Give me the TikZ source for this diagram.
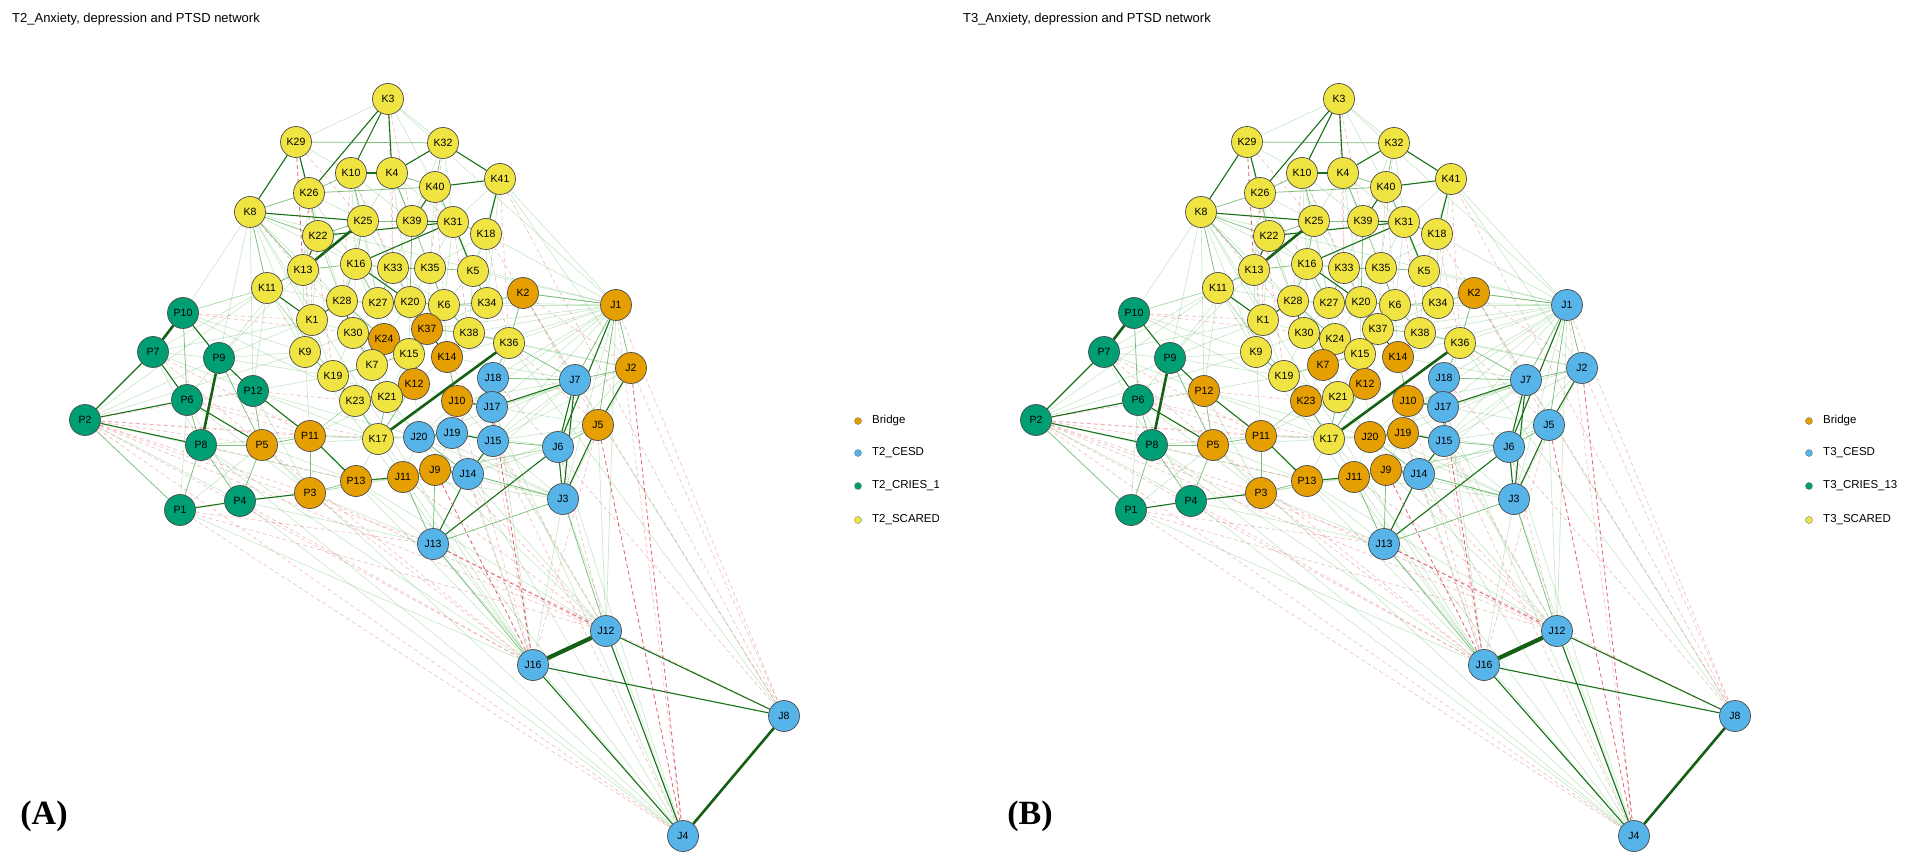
\documentclass[tikz,border=0pt]{standalone}
\usepackage{fontspec}
\setmainfont{Liberation Sans}
\newfontfamily\panelfont{Liberation Serif}
\usepackage{tikz}

\definecolor{yel}{RGB}{240,228,66}
\definecolor{ora}{RGB}{230,159,0}
\definecolor{blu}{RGB}{86,180,233}
\definecolor{grn}{RGB}{0,158,115}
\definecolor{posg}{RGB}{22,112,22}
\definecolor{posl}{RGB}{70,175,70}
\definecolor{negr}{RGB}{215,60,70}

\pgfdeclarelayer{bg}
\pgfdeclarelayer{edges}
\pgfsetlayers{bg,edges,main}

\tikzset{
  sym/.style={shape=circle,draw=black!70,line width=.7pt,minimum size=31pt,inner sep=0pt,font=\fontsize{10.5}{12}\selectfont},
  ea/.style={draw=posl,opacity=.3,line width=.6pt},
  eb/.style={draw=posl!70!posg,opacity=.65,line width=.75pt},
  ec/.style={draw=posg,line width=1.1pt},
  ed/.style={draw=posg!85!black,line width=2.6pt},
  ee/.style={draw=posg!85!black,line width=4.2pt},
  na/.style={draw=negr,dash pattern=on 4pt off 3pt,opacity=.35,line width=.6pt},
  nb/.style={draw=negr,dash pattern=on 4pt off 3pt,opacity=.8,line width=.8pt},
  legdot/.style={shape=circle,draw=black!60,line width=.3pt,minimum size=7pt,inner sep=0pt},
  legtext/.style={anchor=west,inner sep=0pt,font=\fontsize{11.5}{13}\selectfont},
  title/.style={anchor=west,inner sep=0pt,font=\fontsize{13}{15}\selectfont},
  tag/.style={inner sep=0pt,font=\panelfont\bfseries\fontsize{34}{38}\selectfont}
}

% name / x / y / colour T2 / colour T3
\def\nodelist{
K3/388/99/yel/yel, K29/296/142/yel/yel, K32/443/143/yel/yel, K41/500/179/yel/yel,
K10/351/173/yel/yel, K4/392/173/yel/yel, K40/435/187/yel/yel, K26/309/193/yel/yel,
K8/250/212/yel/yel, K25/363/221/yel/yel, K39/412/221/yel/yel, K31/453/222/yel/yel,
K18/486/234/yel/yel, K22/318/236/yel/yel, K13/303/270/yel/yel, K16/356/264/yel/yel,
K33/393/268/yel/yel, K35/430/268/yel/yel, K5/473/271/yel/yel, K11/267/288/yel/yel,
K28/342/301/yel/yel, K27/378/303/yel/yel, K20/410/302/yel/yel, K6/444/305/yel/yel,
K34/487/303/yel/yel, K1/312/320/yel/yel, K30/353/333/yel/yel, K24/384/339/ora/yel,
K37/427/329/ora/yel, K38/469/333/yel/yel, K9/305/352/yel/yel, K15/409/354/yel/yel,
K14/447/357/ora/ora, K7/372/365/yel/ora, K19/333/376/yel/yel, K36/509/343/yel/yel,
K12/414/384/ora/ora, K23/355/401/yel/ora, K21/387/397/yel/yel, K17/378/439/yel/yel,
K2/523/293/ora/ora,
J1/616/305/ora/blu, J2/631/368/ora/blu, J7/575/380/blu/blu, J18/493/378/blu/blu,
J17/492/407/blu/blu, J10/457/401/ora/ora, J5/598/425/ora/blu, J6/558/447/blu/blu,
J20/419/437/blu/ora, J19/452/433/blu/ora, J15/493/441/blu/blu, J14/468/474/blu/blu,
J9/435/470/ora/ora, J11/403/477/ora/ora, J3/563/499/blu/blu, J13/433/544/blu/blu,
J12/606/631/blu/blu, J16/533/665/blu/blu, J8/784/716/blu/blu, J4/683/836/blu/blu,
P10/183/313/grn/grn, P7/153/352/grn/grn, P9/219/358/grn/grn, P6/187/400/grn/grn,
P12/253/391/grn/ora, P2/85/420/grn/grn, P8/201/445/grn/grn, P5/262/445/ora/ora,
P11/310/436/ora/ora, P13/356/481/ora/ora, P3/310/493/ora/ora, P4/240/501/grn/grn,
P1/180/510/grn/grn}

% from / to / weight
\def\edgelist{
K17/K36/ed, J12/J16/ee, J8/J4/ed, P9/P8/ed, P10/P7/ed, K13/K25/ed,
K3/K10/ec, K3/K4/ec, K3/K26/ec, K29/K8/ec, K29/K26/ec, K32/K4/ec, K32/K41/ec, K40/K41/ec,
K40/K39/ec, K8/K25/ec, K22/K31/ec, K16/K31/ec, K18/K41/ec, K16/K20/ec, K5/K31/ec, K1/K28/ec,
K11/K1/ec, K30/K24/ec, K37/K14/ec, K37/K6/ec, K4/K10/ec, K22/K13/ec, K39/K31/ec, K27/K20/ec,
K28/K30/ec,
P10/P9/ec, P7/P2/ec, P7/P6/ec, P2/P6/ec, P2/P8/ec, P9/P12/ec, P12/P11/ec, P6/P5/ec, P1/P4/ec,
P4/P3/ec, P11/P13/ec, P13/J11/ec,
J13/J14/ec, J13/J6/ec, J3/J6/ec, J3/J7/ec, J6/J7/ec, J7/J17/ec, J17/J18/ec, J19/J15/ec,
J20/J19/ec, J14/J15/ec, J1/J6/ec, J2/J5/ec, J5/J3/ec, J12/J8/ec, J16/J8/ec, J12/J4/ec,
J16/J4/ec, J9/J14/ec, J11/J9/ec, J10/J17/ec,
K29/K32/eb, K8/K26/eb, K8/K22/eb, K8/K13/eb, K8/K11/eb, K26/K40/eb, K26/K10/eb, K26/K22/eb,
K22/K25/eb, K25/K39/eb, K40/K31/eb, K31/K18/eb, K35/K33/eb, K33/K16/eb, K35/K5/eb, K5/K34/eb,
K34/K2/eb, K38/K36/eb, K28/K27/eb, K20/K6/eb, K6/K34/eb, K1/K9/eb, K24/K7/eb, K7/K15/eb,
K15/K12/eb, K12/K21/eb, K21/K23/eb, K19/K23/eb, K9/K19/eb, K19/K7/eb, K37/K38/eb, K14/K38/eb,
K16/K28/eb, K33/K27/eb, K35/K6/eb, K13/K11/eb, K13/K16/eb, K10/K25/eb, K4/K39/eb, K4/K40/eb,
K32/K40/eb, K24/K15/eb, K30/K7/eb, K21/K17/eb, K23/K17/eb, K12/K17/eb, K2/K36/eb, K14/J10/eb,
J18/K36/eb, K36/J7/eb, K16/K27/eb, K20/K37/eb, K25/K16/eb, K39/K20/eb, K6/K38/eb, K28/K24/eb,
P10/P6/eb, P2/P1/eb, P6/P8/eb, P8/P5/eb, P8/P1/eb, P4/P5/eb, P4/P8/eb, P3/P11/eb, P5/P11/eb,
P9/P5/eb, P12/P5/eb, P3/P13/eb,
J13/J9/eb, J13/J11/eb, J13/J3/eb, J1/J7/eb, J1/J5/eb, J10/J19/eb, J17/J15/eb, J18/J7/eb,
J15/J6/eb, J14/J3/eb, J20/J14/eb, J5/J6/eb, J2/J1/eb, J1/K2/eb, J2/J7/eb, J13/J16/eb, J3/J12/eb,
K3/K32/ea, K3/K29/ea, K3/K40/ea, K29/K10/ea, K32/K39/ea, K32/K31/ea, K41/K31/ea, K41/K5/ea,
K41/K34/ea, K8/K1/ea, K8/K9/ea, K8/K28/ea, K8/K16/ea, K10/K39/ea, K10/K16/ea, K4/K25/ea,
K4/K31/ea, K26/K25/ea, K26/K13/ea, K26/K16/ea, K22/K16/ea, K22/K28/ea, K22/K1/ea, K25/K33/ea,
K25/K27/ea, K39/K33/ea, K39/K35/ea, K31/K35/ea, K31/K6/ea, K18/K5/ea,
K18/K34/ea, K18/K35/ea, K16/K30/ea, K33/K20/ea, K35/K20/ea, K35/K37/ea, K5/K6/ea,
K5/K38/ea, K34/K38/ea, K34/K37/ea, K28/K1/ea, K27/K24/ea, K27/K30/ea,
K20/K15/ea, K6/K14/ea, K1/K30/ea, K1/K19/ea, K30/K9/ea, K30/K19/ea, K24/K21/ea,
K24/K12/ea, K37/K15/ea, K37/K12/ea, K14/K12/ea, K15/K21/ea, K7/K21/ea, K7/K23/ea, K9/K23/ea,
K11/K9/ea, K11/K28/ea, K11/K19/ea, K19/K21/ea, K23/K12/ea, K12/J10/ea, K36/J17/ea,
K13/K1/ea, K13/K28/ea, K13/K9/ea, K10/K33/ea, K10/K27/ea, K4/K35/ea, K4/K20/ea, K40/K35/ea,
K40/K5/ea, K39/K6/ea, K33/K6/ea, K27/K15/ea, K27/K37/ea, K20/K24/ea, K28/K7/ea, K30/K21/ea,
K16/K24/ea, K33/K37/ea, K25/K28/ea, K22/K30/ea, K31/K34/ea, K26/K28/ea, K29/K22/ea,
K2/J1/ea, K2/J7/ea, K34/J1/ea, K36/J1/ea, K18/J1/ea, K5/J1/ea, K41/J1/ea, K41/J2/ea, K38/J1/ea,
K14/J7/ea, K36/J2/ea, J1/J18/ea, J1/J17/ea, J1/J15/ea, J1/J3/ea, J2/J6/ea, J2/J15/ea, J2/J3/ea,
J5/J15/ea, J5/J17/ea, J5/J14/ea, J7/J15/ea, J7/J19/ea, J7/J10/ea, J6/J14/ea, J6/J19/ea,
J3/J15/ea, J3/J9/ea, J3/J11/ea, J3/J16/ea, J14/J16/ea, J14/J12/ea,
J9/J12/ea, J11/J16/ea, J15/J12/ea, J17/J4/ea, J6/J4/ea, J3/J4/ea, J5/J12/ea, J7/J8/ea,
J13/J4/ea, J14/J4/ea, J1/J12/ea, J18/J16/ea, J1/K37/ea, J1/K14/ea, J1/K6/ea, J2/K38/ea,
J1/J20/ea, J2/J17/ea, J7/J14/ea, J7/J20/ea, J6/J9/ea, J6/J11/ea, J3/J14/ea, J3/J20/ea,
K8/J1/ea, K3/J1/ea, K36/J8/ea, K8/J16/ea, K11/J4/ea, K9/J16/ea, P10/J3/ea,
P2/P13/ea, P2/P4/ea, P2/P9/ea, P7/P9/ea, P7/P12/ea, P7/P8/ea, P7/K11/ea, P10/K11/ea, P10/K9/ea,
P9/K9/ea, P9/K1/ea, P9/P6/ea, P9/K19/ea, P12/K19/ea, P12/K17/ea, P12/P3/ea, P6/P12/ea,
P6/P4/ea, P6/P1/ea, P6/P3/ea, P5/P3/ea, P5/P13/ea, P11/K17/ea, P11/J20/ea, P11/K23/ea,
P13/J13/ea, P13/J14/ea, P3/J13/ea, P3/J11/ea, P1/P5/ea, P1/J16/ea, P8/J16/ea, P4/J13/ea,
P8/P11/ea, P4/J4/ea, P5/J4/ea, P8/J4/ea, K17/J20/ea, K17/J19/ea, K17/P13/ea, K17/J11/ea,
J20/J11/ea, J20/J9/ea, J19/J9/ea, J19/J14/ea, J10/J20/ea, J10/J15/ea, J18/J15/ea, J18/J19/ea,
K12/J20/ea, K21/J20/ea, K21/P11/ea, K23/P11/ea, K9/P11/ea, K11/P12/ea, K13/P9/ea, K8/P10/ea,
K8/P9/ea, K8/P12/ea, K11/P10/ea, K22/P9/ea, P2/K11/ea, P2/K9/ea, P7/K1/ea, P12/J20/ea,
P5/K17/ea, P3/J9/ea, P13/J12/ea, P11/J16/ea,
K29/K13/nb, K3/K39/na, K3/K33/na, K32/K35/na, K8/K30/na, K26/K19/na, K10/K20/na, K4/K33/na,
K31/K38/na, K18/K36/na, K41/K36/na, K29/K25/na, K26/K1/na, K10/K28/na, K40/K6/na, K26/K9/na,
P2/P5/na, P2/P11/na, P2/J13/na, P2/P3/na, P7/P5/na, P10/K30/na, P10/K1/na, P6/P11/na,
P8/P13/na, P1/J13/na, P1/J12/na, P4/J16/na, P3/J12/na, P2/J12/na, P2/J16/na, P1/J4/na,
P2/J4/na, P3/J16/na, P5/J16/na, P2/K17/na, P2/P12/na, P7/P11/na, P6/K17/na, P12/K23/na,
J13/J12/nb, J2/J4/nb, J2/J8/na, J5/J4/nb, J5/J16/na, J1/J8/na, J1/J4/na, J13/J8/na, J9/J16/nb,
J10/J16/na, J11/J12/na, J20/J12/na, K14/J12/na, J19/J16/na, J15/J4/na, J18/J8/na, J6/J12/na,
K2/J5/na, K36/J5/na, K2/J2/na, J17/J16/nb, J15/J16/na, K41/J8/na, K18/J8/na}

\begin{document}
\begin{tikzpicture}[x=1pt,y=-1pt]
\useasboundingbox (0,0) rectangle (1913,866);
\begin{pgfonlayer}{bg}
  \fill[white] (0,0) rectangle (1913,866);
\end{pgfonlayer}

% (A) T2 network
\node[title] (titleA) at (12,19) {T2\_Anxiety, depression and PTSD network};
\foreach \n/\x/\y/\ca/\cb in \nodelist
  \node[sym,fill=\ca] (A\n) at (\x,\y) {\n};
\begin{pgfonlayer}{edges}
  \foreach \a/\b/\s in \edgelist
    \draw[\s] (A\a) -- (A\b);
\end{pgfonlayer}
\begin{scope}
  \clip (0,0) rectangle (938,866);
  \node[legdot,fill=ora] (Ld1) at (858,421) {};
  \node[legdot,fill=blu] (Ld2) at (858,453) {};
  \node[legdot,fill=grn] (Ld3) at (858,486) {};
  \node[legdot,fill=yel] (Ld4) at (858,520) {};
  \node[legtext] (Lt1) at (872,421) {Bridge};
  \node[legtext] (Lt2) at (872,453) {T2\_CESD};
  \node[legtext] (Lt3) at (872,486) {T2\_CRIES\_1};
  \node[legtext] (Lt4) at (872,520) {T2\_SCARED};
\end{scope}
\node[tag] (tagA) at (44,816) {(A)};

% (B) T3 network
\begin{scope}[xshift=951pt]
  \node[title] (titleB) at (12,19) {T3\_Anxiety, depression and PTSD network};
  \foreach \n/\x/\y/\ca/\cb in \nodelist
    \node[sym,fill=\cb] (B\n) at (\x,\y) {\n};
  \begin{pgfonlayer}{edges}
    \foreach \a/\b/\s in \edgelist
      \draw[\s] (B\a) -- (B\b);
  \end{pgfonlayer}
  \node[legdot,fill=ora] (Md1) at (858,421) {};
  \node[legdot,fill=blu] (Md2) at (858,453) {};
  \node[legdot,fill=grn] (Md3) at (858,486) {};
  \node[legdot,fill=yel] (Md4) at (858,520) {};
  \node[legtext] (Mt1) at (872,421) {Bridge};
  \node[legtext] (Mt2) at (872,453) {T3\_CESD};
  \node[legtext] (Mt3) at (872,486) {T3\_CRIES\_13};
  \node[legtext] (Mt4) at (872,520) {T3\_SCARED};
  \node[tag] (tagB) at (79,816) {(B)};
\end{scope}
\end{tikzpicture}
\end{document}
